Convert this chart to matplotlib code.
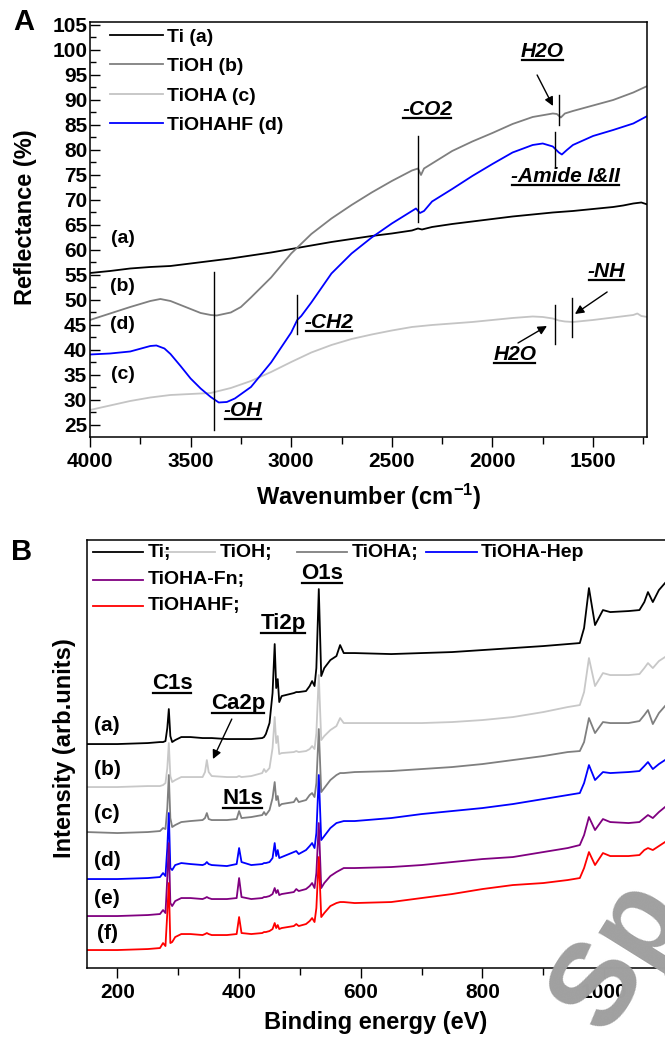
import numpy as np
import matplotlib
matplotlib.use("Agg")
import matplotlib.pyplot as plt
import matplotlib.ticker as mticker
from matplotlib.lines import Line2D

plt.rcParams["font.family"] = ["Liberation Sans", "DejaVu Sans"]
plt.rcParams["font.weight"] = "bold"
plt.rcParams["axes.labelweight"] = "bold"
plt.rcParams["mathtext.fontset"] = "custom"
plt.rcParams["mathtext.rm"] = "Liberation Sans:bold"
plt.rcParams["mathtext.bf"] = "Liberation Sans:bold"
plt.rcParams["mathtext.default"] = "rm"

# ── FTIR reflectance (panel A) ─────────────────────────────────────────
ti_wn = [4000, 3900, 3800, 3700, 3600, 3500, 3400, 3300, 3200, 3100, 3000, 2900,
         2800, 2700, 2600, 2500, 2400, 2370, 2350, 2300, 2200, 2100, 2000, 1900,
         1800, 1700, 1600, 1500, 1400, 1350, 1300, 1260, 1230]
ti_r = [55.4, 55.8, 56.3, 56.6, 56.8, 57.3, 57.8, 58.3, 58.9, 59.5, 60.2, 60.9,
        61.6, 62.2, 62.8, 63.3, 63.9, 64.3, 64.1, 64.6, 65.2, 65.7, 66.2, 66.7,
        67.1, 67.5, 67.8, 68.2, 68.6, 68.9, 69.3, 69.5, 69.1]

tioh_wn = [4000, 3900, 3800, 3700, 3650, 3600, 3500, 3450, 3400, 3370, 3300, 3250,
           3200, 3100, 3000, 2900, 2800, 2700, 2600, 2500, 2400, 2370, 2355, 2340,
           2300, 2200, 2100, 2000, 1900, 1800, 1700, 1680, 1660, 1640, 1600, 1500,
           1400, 1300, 1230]
tioh_r = [46.0, 47.3, 48.6, 49.8, 50.2, 49.8, 48.2, 47.4, 47.0, 46.9, 47.5, 48.6,
          50.5, 54.5, 59.3, 63.2, 66.3, 69.0, 71.5, 73.8, 75.9, 76.3, 75.0, 76.3,
          77.3, 79.8, 81.7, 83.4, 85.2, 86.6, 87.3, 87.2, 86.5, 87.3, 87.8, 88.9,
          90.0, 91.5, 92.8]

tioha_wn = [4000, 3900, 3800, 3700, 3600, 3500, 3400, 3300, 3200, 3100, 3000, 2900,
            2800, 2700, 2600, 2500, 2400, 2300, 2200, 2100, 2000, 1900, 1800, 1750,
            1700, 1670, 1640, 1600, 1550, 1500, 1400, 1300, 1280, 1260, 1230]
tioha_r = [28.0, 28.9, 29.8, 30.5, 31.0, 31.2, 31.4, 32.4, 33.8, 35.6, 37.6, 39.5,
           41.0, 42.2, 43.1, 43.9, 44.6, 45.0, 45.3, 45.6, 46.0, 46.4, 46.7, 46.6,
           46.3, 45.9, 45.7, 45.6, 45.8, 46.0, 46.5, 47.0, 47.3, 46.8, 46.6]

tiohahf_wn = [4000, 3900, 3800, 3700, 3670, 3630, 3600, 3550, 3500, 3450, 3400, 3360,
              3320, 3280, 3200, 3100, 3000, 2970, 2950, 2900, 2800, 2700, 2600, 2500,
              2400, 2380, 2360, 2340, 2300, 2200, 2100, 2000, 1900, 1800, 1750, 1700,
              1670, 1655, 1630, 1600, 1500, 1400, 1300, 1230]
tiohahf_r = [39.1, 39.3, 39.7, 40.8, 40.9, 40.3, 39.2, 36.8, 34.3, 32.3, 30.6, 29.5,
             29.6, 30.3, 32.6, 37.5, 43.5, 46.0, 46.8, 49.5, 55.3, 59.3, 62.5, 65.3,
             67.8, 68.3, 67.4, 67.8, 69.7, 72.2, 74.8, 77.2, 79.5, 81.0, 81.3, 80.7,
             79.5, 79.1, 80.0, 81.0, 82.8, 84.0, 85.3, 86.8]

# ── XPS survey (panel B), intensity in arbitrary units ─────────────────
be = [150, 200, 250, 270, 275, 279, 282, 284.5, 287, 290, 295, 305, 320, 340, 344,
      347, 350, 355, 380, 396, 400, 404, 420, 438, 441, 444, 450, 455, 458.5, 461,
      463.5, 466, 470, 490, 494, 498, 510, 516, 520, 524, 527, 531, 535, 540, 550,
      560, 566, 572, 590, 650, 700, 750, 800, 850, 900, 940, 960, 967, 975, 985,
      998, 1010, 1040, 1058, 1066, 1072, 1080, 1090, 1100]
xps_ti = [224, 224, 225, 226, 226, 227, 240, 259, 232, 226, 228, 231, 231, 230, 230,
          230, 230, 230, 229, 229, 229, 229, 229, 230, 231, 234, 245, 275, 324, 280,
          289, 266, 272, 275, 276, 276, 277, 282, 287, 282, 300, 379, 292, 300, 308,
          312, 323, 315, 315, 314, 315, 316, 318, 320, 322, 324, 325, 340, 380, 343,
          358, 356, 357, 358, 366, 376, 366, 378, 385]
xps_tioh = [181, 181, 182, 182, 183, 185, 200, 225, 192, 186, 188, 191, 191, 191, 196,
            208, 196, 192, 191, 191, 192, 191, 192, 195, 199, 196, 200, 220, 251, 225,
            232, 214, 215, 216, 217, 216, 217, 219, 222, 219, 235, 293, 228, 232, 238,
            242, 250, 245, 245, 245, 245, 246, 248, 251, 256, 261, 263, 276, 310, 282,
            295, 293, 293, 294, 300, 305, 300, 307, 311]
xps_tioha = [136, 135, 136, 137, 140, 139, 160, 193, 150, 141, 143, 146, 147, 148, 150,
             155, 149, 148, 148, 149, 157, 150, 151, 153, 156, 153, 158, 170, 186, 168,
             172, 162, 164, 166, 170, 166, 168, 173, 175, 171, 185, 239, 176, 180, 188,
             193, 195, 195, 196, 197, 199, 201, 204, 208, 212, 216, 217, 226, 250, 235,
             246, 245, 245, 247, 253, 258, 244, 255, 262]
xps_hep = [89, 89, 90, 91, 95, 92, 120, 155, 100, 98, 103, 105, 104, 103, 104,
           106, 104, 103, 102, 104, 120, 106, 103, 104, 105, 105, 106, 110, 125, 112,
           118, 110, 111, 116, 117, 114, 118, 122, 125, 120, 135, 193, 128, 132, 140,
           145, 146, 147, 147, 150, 154, 157, 160, 164, 169, 173, 175, 185, 203, 188,
           196, 195, 196, 197, 202, 206, 199, 204, 208]
xps_fn = [52, 52, 53, 54, 58, 55, 90, 125, 65, 62, 67, 70, 70, 69, 70,
          71, 70, 69, 69, 70, 90, 71, 69, 70, 71, 71, 72, 74, 80, 75,
          78, 73, 74, 76, 79, 77, 79, 82, 85, 80, 95, 145, 80, 85, 92,
          96, 98, 100, 100, 101, 103, 106, 109, 111, 116, 120, 123, 133, 151, 138,
          149, 146, 145, 146, 150, 153, 150, 156, 161]
xps_hf = [18, 18, 19, 20, 25, 22, 55, 85, 25, 26, 31, 34, 34, 33, 34,
          35, 34, 33, 33, 34, 51, 35, 34, 35, 36, 36, 37, 39, 45, 40,
          43, 39, 40, 42, 44, 42, 44, 47, 50, 46, 60, 111, 51, 55, 62,
          65, 66, 66, 65, 66, 70, 74, 79, 83, 85, 88, 90, 100, 116, 103,
          115, 112, 112, 113, 118, 120, 118, 122, 126]

ftir = [
    (ti_wn, ti_r, "black", "Ti (a)"),
    (tioh_wn, tioh_r, "#7f7f7f", "TiOH (b)"),
    (tioha_wn, tioha_r, "#c4c4c4", "TiOHA (c)"),
    (tiohahf_wn, tiohahf_r, "#0000ff", "TiOHAHF (d)"),
]
xps = [
    (xps_ti, "black", "Ti;"),
    (xps_tioh, "#c8c8c8", "TiOH;"),
    (xps_tioha, "#7f7f7f", "TiOHA;"),
    (xps_hep, "#0000ff", "TiOHA-Hep"),
    (xps_fn, "#800080", "TiOHA-Fn;"),
    (xps_hf, "#ff0000", "TiOHAHF;"),
]

fig = plt.figure(figsize=(6.65, 10.37), dpi=100)
ax1 = fig.add_axes([0.1353, 0.5786, 0.8376, 0.4002])
ax2 = fig.add_axes([0.1308, 0.0665, 0.8692, 0.4127])

underlined = []

# ── Panel A ────────────────────────────────────────────────────────────
for wn, r, color, label in ftir:
    ax1.plot(wn, r, color=color, lw=1.3, label=label)

ax1.set_xlim(4000, 1232)
ax1.set_ylim(22.6, 105.6)
ax1.xaxis.set_major_locator(mticker.MultipleLocator(500))
ax1.xaxis.set_minor_locator(mticker.MultipleLocator(250))
ax1.yaxis.set_major_locator(mticker.MultipleLocator(5))
ax1.yaxis.set_minor_locator(mticker.MultipleLocator(2.5))
ax1.tick_params(axis="x", which="major", direction="out", length=7, width=1, labelsize=15)
ax1.tick_params(axis="x", which="minor", direction="out", length=5, width=1)
ax1.tick_params(axis="y", which="major", direction="in", length=7, width=1, labelsize=15, pad=2)
ax1.tick_params(axis="y", which="minor", direction="in", length=4, width=1)
for s in ax1.spines.values():
    s.set_linewidth(1.1)
ax1.set_xlabel("Wavenumber (cm$^{-1}$)", fontsize=17)
ax1.set_ylabel("Reflectance (%)", fontsize=17)
ax1.yaxis.set_label_coords(-0.096, 0.53)
ax1.xaxis.set_label_coords(0.5, -0.107)

ax1.legend(loc="upper left", bbox_to_anchor=(0.036, 0.985), frameon=False,
           fontsize=14, handlelength=2.7, handletextpad=0.25, labelspacing=0.61,
           borderaxespad=0, borderpad=0)

for txt, w, r in [("(a)", 3838, 62.2), ("(b)", 3838, 52.6), ("(d)", 3838, 45.0), ("(c)", 3838, 35.0)]:
    ax1.text(w, r, txt, fontsize=14, ha="center", va="center")

# band markers
for w, r0, r1 in [(2370, 65.6, 82.8), (1670, 85.0, 91.0), (1689, 76.6, 83.6),
                  (3384, 24.0, 55.6), (2971, 43.2, 51.0), (1689, 41.2, 49.0), (1604, 42.6, 50.4)]:
    ax1.plot([w, w], [r0, r1], color="black", lw=1)

bands = [("-CO2", 2325, 88.0), ("H2O", 1753, 99.6), ("-Amide I&II", 1639, 74.6),
         ("-OH", 3240, 27.8), ("-CH2", 2812, 45.4), ("H2O", 1888, 39.0), ("-NH", 1435, 55.6)]
for txt, w, r in bands:
    t = ax1.text(w, r, txt, fontsize=15, style="italic", ha="center", va="center")
    underlined.append(t)

arw = dict(arrowstyle="-|>", color="black", lw=1, mutation_scale=13, shrinkA=0, shrinkB=0)
ax1.annotate("", xy=(1699, 88.8), xytext=(1778, 95.0), arrowprops=arw)
ax1.annotate("", xy=(1729, 44.8), xytext=(1873, 41.4), arrowprops=arw)
ax1.annotate("", xy=(1590, 47.2), xytext=(1430, 51.6), arrowprops=arw)

# ── Panel B ────────────────────────────────────────────────────────────
for vals, color, label in xps:
    ax2.plot(be, vals, color=color, lw=1.3)

ax2.set_xlim(150, 1100)
ax2.set_ylim(0, 428)
ax2.set_yticks([])
ax2.xaxis.set_major_locator(mticker.MultipleLocator(200))
ax2.xaxis.set_minor_locator(mticker.MultipleLocator(100))
ax2.tick_params(axis="x", which="major", direction="out", length=7, width=1, labelsize=15)
ax2.tick_params(axis="x", which="minor", direction="out", length=5, width=1)
ax2.spines["right"].set_visible(False)
for s in ax2.spines.values():
    s.set_linewidth(1.1)
ax2.set_xlabel("Binding energy (eV)", fontsize=17)
ax2.set_ylabel("Intensity (arb.units)", fontsize=17)
ax2.yaxis.set_label_coords(-0.019, 0.514)
ax2.xaxis.set_label_coords(0.5, -0.1)

# legend drawn by hand: four entries on the first row, then two rows
leg_pos = [(0.010, 0.972), (0.135, 0.972), (0.363, 0.972), (0.587, 0.972),
           (0.010, 0.907), (0.010, 0.846)]
for (x0, y0), (_, color, label) in zip(leg_pos, xps):
    ax2.add_line(Line2D([x0, x0 + 0.087], [y0, y0], color=color, lw=1.3,
                        transform=ax2.transAxes))
    ax2.text(x0 + 0.095, y0, label, fontsize=14, ha="left", va="center",
             transform=ax2.transAxes)

for txt, h in [("(a)", 243), ("(b)", 199), ("(c)", 155), ("(d)", 108), ("(e)", 70), ("(f)", 35)]:
    ax2.text(183, h, txt, fontsize=15, ha="center", va="center")

peaks = [("C1s", 290, 285), ("Ca2p", 398, 265), ("Ti2p", 472, 345), ("O1s", 536, 395), ("N1s", 406, 170)]
for txt, e, h in peaks:
    t = ax2.text(e, h, txt, fontsize=16, ha="center", va="center")
    underlined.append(t)
ax2.annotate("", xy=(357, 209), xytext=(388, 249), arrowprops=arw)

fig.text(0.036, 0.979, "A", fontsize=21, ha="center", va="center")
fig.text(0.032, 0.468, "B", fontsize=21, ha="center", va="center")

# faint watermark in the lower right corner
fig.text(0.910, 0.0014, "Sp", fontsize=85, color="#a0a0a0", rotation=58,
         rotation_mode="anchor", ha="left", va="baseline")

# underline the band / peak labels
fig.canvas.draw()
renderer = fig.canvas.get_renderer()
inv = fig.transFigure.inverted()
for t in underlined:
    bb = t.get_window_extent(renderer)
    (x0, y0), (x1, _) = inv.transform([(bb.x0 + 1, bb.y0 + 1), (bb.x1 - 1, bb.y0 + 1)])
    fig.add_artist(Line2D([x0, x1], [y0, y0], color="black", lw=1.6))

fig.savefig("out.png", dpi=100)
